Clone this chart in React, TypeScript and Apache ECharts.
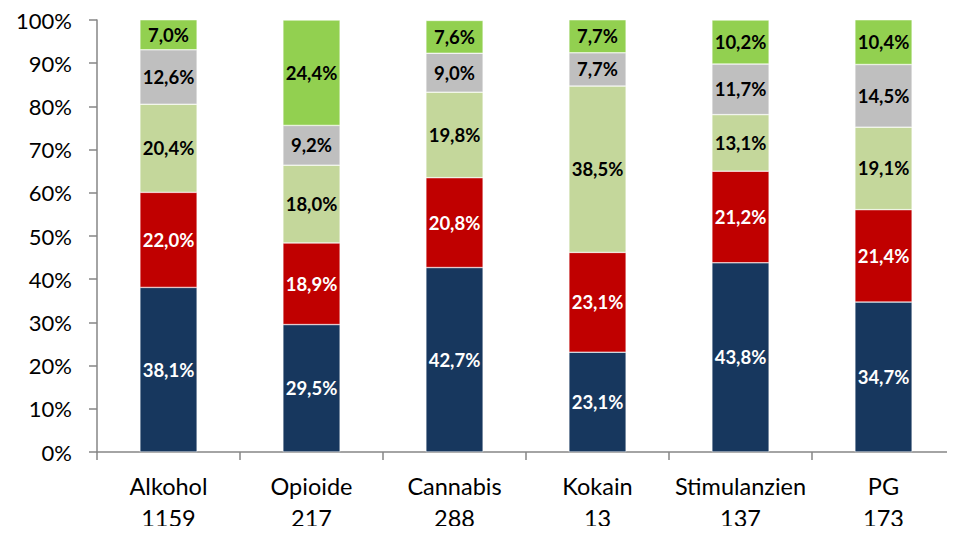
import React, { useEffect, useRef } from "react";
import * as echarts from "echarts";

// Substance groups and their case counts (shown as a second label line)
const categories = ["Alkohol", "Opioide", "Cannabis", "Kokain", "Stimulanzien", "PG"];
const caseCounts = [1159, 217, 288, 13, 137, 173];

// Share per group, stacked bottom to top (percent)
const seg1 = [38.1, 29.5, 42.7, 23.1, 43.8, 34.7];
const seg2 = [22.0, 18.9, 20.8, 23.1, 21.2, 21.4];
const seg3 = [20.4, 18.0, 19.8, 38.5, 13.1, 19.1];
const seg4 = [12.6, 9.2, 9.0, 7.7, 11.7, 14.5];
const seg5 = [7.0, 24.4, 7.6, 7.7, 10.2, 10.4];

const yTicks = { min: 0, max: 100, interval: 10 };

const FONT = "Lato, 'Noto Sans', sans-serif";

const fmt = (v: number) => v.toFixed(1).replace(".", ",") + "%";

export default function App() {
  const ref = useRef<HTMLDivElement>(null);

  useEffect(() => {
    if (!ref.current) return;
    const chart = echarts.init(ref.current, undefined, { renderer: "svg" });

    const layers = [
      { data: seg1, color: "#17375E", text: "#FFFFFF" },
      { data: seg2, color: "#C00000", text: "#FFFFFF" },
      { data: seg3, color: "#C4D79B", text: "#000000" },
      { data: seg4, color: "#BFBFBF", text: "#000000" },
      { data: seg5, color: "#92D050", text: "#000000" },
    ];

    chart.setOption({
      animation: false,
      grid: { left: 97, right: 0, top: 20, bottom: 77, containLabel: false },
      xAxis: {
        type: "category",
        data: categories.map((c, i) => `${c}\n${caseCounts[i]}`),
        axisLine: { lineStyle: { color: "#868686", width: 1.5 } },
        axisTick: { show: true, length: 8, lineStyle: { color: "#868686", width: 1.5 } },
        axisLabel: {
          color: "#000",
          fontFamily: FONT,
          fontSize: 23.5,
          lineHeight: 32,
          margin: 18,
          interval: 0,
        },
      },
      yAxis: {
        type: "value",
        min: yTicks.min,
        max: yTicks.max,
        interval: yTicks.interval,
        axisLine: { show: true, lineStyle: { color: "#868686", width: 1.5 } },
        axisTick: { show: true, length: 8, lineStyle: { color: "#868686", width: 1.5 } },
        splitLine: { show: false },
        axisLabel: {
          color: "#000",
          fontFamily: FONT,
          fontSize: 22,
          margin: 25,
          formatter: "{value}%",
        },
      },
      series: layers.map((l) => ({
        type: "bar",
        stack: "total",
        barWidth: "40%",
        data: l.data,
        itemStyle: { color: l.color, borderColor: "#FFFFFF", borderWidth: 0.5 },
        label: {
          show: true,
          position: "inside",
          color: l.text,
          fontFamily: FONT,
          fontWeight: "bold",
          fontSize: 18.5,
          formatter: (p: any) => fmt(p.value),
        },
      })),
    });

    return () => chart.dispose();
  }, []);

  return <div ref={ref} style={{ width: 955, height: 534, margin: -8 }} />;
}
